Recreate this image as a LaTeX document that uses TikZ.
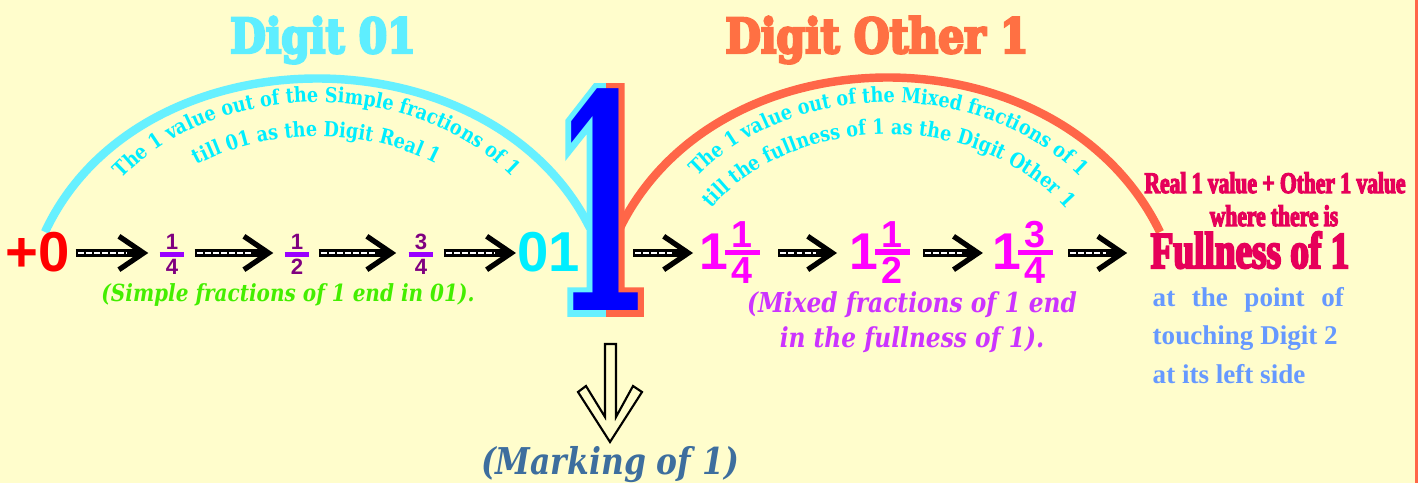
\documentclass[tikz,border=0pt]{standalone}
\usepackage{fontspec}
\usepackage{graphicx}
\usetikzlibrary{arrows.meta,positioning,decorations.text}

\newfontfamily\slabfont[FakeStretch=0.85]{DejaVu Serif}
\newfontfamily\titlefont[FakeStretch=0.85,FakeBold=5]{DejaVu Serif}
\newfontfamily\onefont[FakeStretch=0.47]{DejaVu Serif}
\newfontfamily\oneedgefont[FakeStretch=0.47,FakeBold=4]{DejaVu Serif}
\newfontfamily\condfont[FakeStretch=0.72,FakeBold=4]{Liberation Serif}
\newfontfamily\bookfont{Liberation Serif}
\newfontfamily\numfont{Liberation Sans}

\definecolor{bgyellow}{RGB}{255,253,204}
\definecolor{edgeorange}{RGB}{255,102,72}
\definecolor{arccyan}{RGB}{102,240,255}
\definecolor{arcorange}{RGB}{255,102,72}
\definecolor{arcletters}{RGB}{0,238,255}
\definecolor{titlecyan}{RGB}{94,238,255}
\definecolor{titleorange}{RGB}{255,112,67}
\definecolor{zerored}{RGB}{255,0,0}
\definecolor{onecyan}{RGB}{0,238,255}
\definecolor{onecore}{RGB}{0,0,255}
\definecolor{fracnum}{RGB}{128,0,128}
\definecolor{fracbar}{RGB}{153,0,255}
\definecolor{mixmagenta}{RGB}{255,0,255}
\definecolor{simplegreen}{RGB}{68,238,0}
\definecolor{mixviolet}{RGB}{204,51,255}
\definecolor{fullcrimson}{RGB}{230,0,90}
\definecolor{pointblue}{RGB}{102,153,255}
\definecolor{markblue}{RGB}{61,110,158}

\newcommand{\arcfont}{\slabfont\bfseries\fontsize{5.9}{6}\selectfont}
% #1 bar thickness, #2 side kern, #3 numerator, #4 denominator
\newcommand{\barfrac}[4]{\vbox{\offinterlineskip\halign{\hfil##\hfil\cr\kern#2#3\kern#2\cr
    \noalign{\kern0.6pt\hrule height#1\kern0.6pt}\kern#2#4\kern#2\cr}}}
\newcommand{\simplefrac}[2]{\barfrac{1.4pt}{1.8pt}{\textcolor{fracnum}{#1}}{\textcolor{fracnum}{#2}}}
\newcommand{\mixedfrac}[3]{#1\kern-1pt\raisebox{-3.8pt}{\fontsize{10.7}{11}\selectfont\barfrac{1.6pt}{2pt}{#2}{#3}}}

\begin{document}
\begin{tikzpicture}[x=0.01cm, y=-0.01cm,
    every node/.style={inner sep=0pt},
    arcline/.style={line width=2.4pt},
    arcwords/.style={decorate, decoration={text along path, text align=center, text color=arcletters, text={|\arcfont|#1}}},
    onecopy/.style={anchor=base, font=\onefont\bfseries\fontsize{85}{85}\selectfont},
    oneedge/.style={anchor=base, font=\oneedgefont\bfseries\fontsize{85}{85}\selectfont},
    titletext/.style={anchor=base, text=#1, font=\titlefont\bfseries\fontsize{13.7}{14}\selectfont},
    numtext/.style={anchor=base, font=\numfont\bfseries\fontsize{16}{16}\selectfont},
    smallfrac/.style={anchor=center, text=fracbar, font=\numfont\bfseries\fontsize{6.3}{6.5}\selectfont},
    mixfrac/.style={anchor=base west, text=mixmagenta, font=\numfont\bfseries\fontsize{14.7}{15}\selectfont},
    steparrow/.style 2 args={draw=black, line width=2pt, shorten <=#1, shorten >=#2,
        -{Straight Barb[length=7pt,width=9.5pt,line width=1.5pt]},
        postaction={draw=white, -, line width=0.8pt, dash pattern=on 1.7pt off 0.6pt,
            shorten <=#1+0.6pt, shorten >=#2+6pt}},
    note/.style 2 args={anchor=base, text=#1, font=\slabfont\bfseries\itshape\fontsize{#2}{10}\selectfont},
    rightnote/.style={anchor=base, text=fullcrimson, font=\condfont\bfseries\fontsize{8.5}{9}\selectfont},
    pointnote/.style={anchor=base west, text=pointblue, font=\bookfont\bfseries\fontsize{7.7}{8}\selectfont},
    hollowarrow/.style={draw=black, line width=0.6pt, fill=bgyellow, line join=miter}]

    % background and right border
    \fill[bgyellow] (0,0) rectangle (1418,483);
    \fill[edgeorange] (1415,0) rectangle (1418,483);

    % Titles
    \node[titletext=titlecyan] (realtitle) at (323,53) {Digit 01};
    \node[titletext=titleorange] (othertitle) at (877,53) {Digit Other 1};

    % Arcs
    \draw[arcline, arccyan] (45,232) .. controls (140,28) and (490,28) .. (590,228);
    \draw[arcline, arcorange] (618,232) .. controls (715,26) and (1060,26) .. (1160,232);

    % Words along the arcs
    \path[arcwords={The 1 value out of the Simple fractions of 1}] (83,236) .. controls (165,58) and (466,58) .. (552,233);
    \path[arcwords={till 01 as the Digit Real 1}] (112,252) .. controls (185,98) and (447,98) .. (523,250);
    \path[arcwords={The 1 value out of the Mixed fractions of 1}] (656,236) .. controls (739,58) and (1036,58) .. (1122,236);
    \path[arcwords={till the fullness of 1 as the Digit Other 1}] (683,252) .. controls (757,95) and (1018,95) .. (1095,252);

    % Big 1 with two-coloured edge
    \begin{scope}
        \clip (540,60) rectangle (606,330);
        \node[oneedge, text=arccyan] (cyanedge) at (603,311) {1};
    \end{scope}
    \begin{scope}
        \clip (606,60) rectangle (670,330);
        \node[oneedge, text=arcorange] (orangeedge) at (603,311) {1};
    \end{scope}
    \node[onecopy, text=onecore] (bigone) at (603,311) {1};

    % Number row
    \coordinate (row) at (0,253);
    \node[numtext, text=zerored] (zero) at (38,272) {+0};
    \node[smallfrac] (quarter) at (172,254.5) {\simplefrac{1}{4}};
    \node[smallfrac] (half) at (297,254.5) {\simplefrac{1}{2}};
    \node[smallfrac] (threeq) at (421,254.5) {\simplefrac{3}{4}};
    \node[numtext, text=onecyan] (zeroone) at (549,272) {01};
    \coordinate (onestem) at (633,253);
    \node[mixfrac] (onequarter) at (699,270) {\mixedfrac{1}{1}{4}};
    \node[mixfrac] (onehalf) at (849,270) {\mixedfrac{1}{1}{2}};
    \node[mixfrac] (onethreeq) at (992,270) {\mixedfrac{1}{3}{4}};

    % Step arrows
    \draw[steparrow={1.4pt}{3pt}] (zero.east |- row) -- (quarter.west |- row);
    \draw[steparrow={2.7pt}{3pt}] (quarter.east |- row) -- (half.west |- row);
    \draw[steparrow={2.4pt}{3.3pt}] (half.east |- row) -- (threeq.west |- row);
    \draw[steparrow={2.7pt}{0.3pt}] (threeq.east |- row) -- (zeroone.west |- row);
    \draw[steparrow={0pt}{1.7pt}] (onestem) -- (onequarter.west |- row);
    \draw[steparrow={5pt}{3.4pt}] (onequarter.east |- row) -- (onehalf.west |- row);
    \draw[steparrow={3.5pt}{2.6pt}] (onehalf.east |- row) -- (onethreeq.west |- row);

    % Right side texts
    \node[rightnote] (realother) at (1275,193) {Real 1 value + Other 1 value};
    \node[rightnote] (wherethere) at (1274,226) {where there is};
    \node[rightnote, anchor=base west, font=\condfont\bfseries\fontsize{14.7}{15}\selectfont] (fullness) at (1150,268) {Fullness of 1};
    \node[pointnote] (pointa) at (1152,307) {\makebox[1.91cm][s]{at the point of}};
    \node[pointnote] (pointb) at (1152,345) {touching Digit 2};
    \node[pointnote] (pointc) at (1152,384) {at its left side};
    \draw[steparrow={4.1pt}{6.5pt}] (onethreeq.east |- row) -- (fullness.west |- row);

    % Notes under the row
    \node[note={simplegreen}{6.7}] (simplenote) at (288,302) {(Simple fractions of 1 end in 01).};
    \node[note={mixviolet}{7.8}, align=center] (mixnote) at (912,348) {(Mixed fractions of 1 end\\in the fullness of 1).};
    \node[note={markblue}{10.5}] (marking) at (610,475) {(Marking of 1)};

    % Hollow arrow down to the marking
    \coordinate (marktip) at (610,442);
    \draw[hollowarrow, shift={(marktip)}] (-5,-98) -- (-5,-25) -- (-24,-56) -- (-32,-50) -- (0,0)
        -- (32,-50) -- (23,-56) -- (6,-25) -- (6,-98) -- cycle;
\end{tikzpicture}
\end{document}
